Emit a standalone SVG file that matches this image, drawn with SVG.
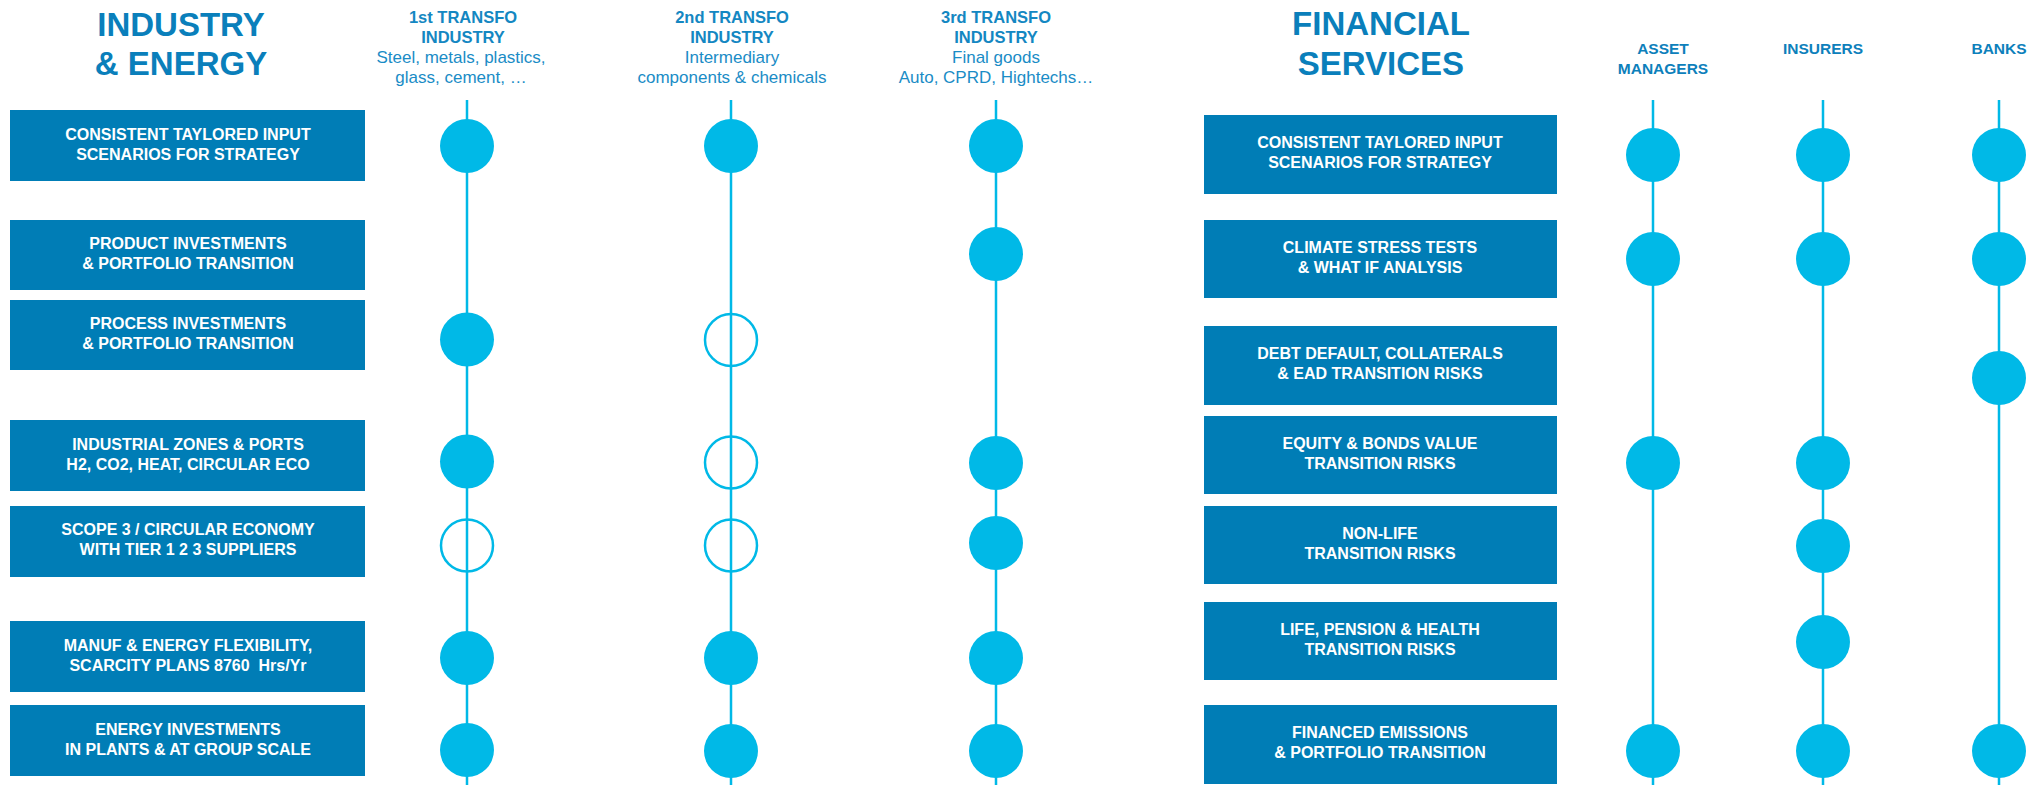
<svg xmlns="http://www.w3.org/2000/svg" width="2039" height="785" viewBox="0 0 2039 785">
<style>
.bg{fill:#ffffff}
.box{fill:#007db6}
.bt{font-family:"Liberation Sans",Arial,sans-serif;font-weight:bold;font-size:16px;fill:#ffffff;text-anchor:middle}
.title{font-family:"Liberation Sans",Arial,sans-serif;font-weight:bold;font-size:33px;fill:#0a7fbb;text-anchor:middle}
.hd{font-family:"Liberation Sans",Arial,sans-serif;font-weight:bold;font-size:16.5px;fill:#1487c2;text-anchor:middle}
.sub{font-family:"Liberation Sans",Arial,sans-serif;font-size:17px;fill:#1a8cc6;text-anchor:middle}
.rh{font-family:"Liberation Sans",Arial,sans-serif;font-weight:bold;font-size:15.5px;fill:#0d80bb;text-anchor:middle}
.ln{stroke:#00b9e7;stroke-width:2.5;fill:none}
.f{fill:#00b9e7}
.h{fill:none;stroke:#00b9e7;stroke-width:2.5}
</style>
<rect class="bg" x="0" y="0" width="2039" height="785"/>

<g id="titles">
<text class="title" x="181" y="36">INDUSTRY</text>
<text class="title" x="181" y="75">&amp; ENERGY</text>
<text class="title" x="1381" y="35">FINANCIAL</text>
<text class="title" x="1381" y="75">SERVICES</text>
</g>

<g id="col-headers">
<g id="hdr-1st">
<text class="hd" x="463" y="23">1st TRANSFO</text>
<text class="hd" x="463" y="43">INDUSTRY</text>
<text class="sub" x="461" y="63">Steel, metals, plastics,</text>
<text class="sub" x="461" y="83">glass, cement, …</text>
</g>
<g id="hdr-2nd">
<text class="hd" x="732" y="23">2nd TRANSFO</text>
<text class="hd" x="732" y="43">INDUSTRY</text>
<text class="sub" x="732" y="63">Intermediary</text>
<text class="sub" x="732" y="83">components &amp; chemicals</text>
</g>
<g id="hdr-3rd">
<text class="hd" x="996" y="23">3rd TRANSFO</text>
<text class="hd" x="996" y="43">INDUSTRY</text>
<text class="sub" x="996" y="63">Final goods</text>
<text class="sub" x="996" y="83">Auto, CPRD, Hightechs…</text>
</g>
<g id="hdr-am">
<text class="rh" x="1663" y="54">ASSET</text>
<text class="rh" x="1663" y="74">MANAGERS</text>
</g>
<g id="hdr-ins"><text class="rh" x="1823" y="54">INSURERS</text></g>
<g id="hdr-banks"><text class="rh" x="1999" y="54">BANKS</text></g>
</g>

<g id="connectors">
<line class="ln" x1="467" y1="100" x2="467" y2="785"/>
<line class="ln" x1="731" y1="100" x2="731" y2="785"/>
<line class="ln" x1="996" y1="100" x2="996" y2="785"/>
<line class="ln" x1="1653" y1="100" x2="1653" y2="785"/>
<line class="ln" x1="1823" y1="100" x2="1823" y2="785"/>
<line class="ln" x1="1999" y1="100" x2="1999" y2="785"/>
</g>

<g id="left-rows">
<g id="l1"><rect class="box" x="10" y="110" width="355" height="71"/>
<text class="bt" x="188" y="140">CONSISTENT TAYLORED INPUT</text>
<text class="bt" x="188" y="160">SCENARIOS FOR STRATEGY</text></g>
<g id="l2"><rect class="box" x="10" y="220" width="355" height="70"/>
<text class="bt" x="188" y="249">PRODUCT INVESTMENTS</text>
<text class="bt" x="188" y="269">&amp; PORTFOLIO TRANSITION</text></g>
<g id="l3"><rect class="box" x="10" y="300" width="355" height="70"/>
<text class="bt" x="188" y="329">PROCESS INVESTMENTS</text>
<text class="bt" x="188" y="349">&amp; PORTFOLIO TRANSITION</text></g>
<g id="l4"><rect class="box" x="10" y="420" width="355" height="71"/>
<text class="bt" x="188" y="450">INDUSTRIAL ZONES &amp; PORTS</text>
<text class="bt" x="188" y="470">H2, CO2, HEAT, CIRCULAR ECO</text></g>
<g id="l5"><rect class="box" x="10" y="506" width="355" height="71"/>
<text class="bt" x="188" y="535">SCOPE 3 / CIRCULAR ECONOMY</text>
<text class="bt" x="188" y="555">WITH TIER 1 2 3 SUPPLIERS</text></g>
<g id="l6"><rect class="box" x="10" y="621" width="355" height="71"/>
<text class="bt" x="188" y="651">MANUF &amp; ENERGY FLEXIBILITY,</text>
<text class="bt" x="188" y="671" xml:space="preserve">SCARCITY PLANS 8760  Hrs/Yr</text></g>
<g id="l7"><rect class="box" x="10" y="705" width="355" height="71"/>
<text class="bt" x="188" y="735">ENERGY INVESTMENTS</text>
<text class="bt" x="188" y="755">IN PLANTS &amp; AT GROUP SCALE</text></g>
</g>

<g id="right-rows">
<g id="r1"><rect class="box" x="1204" y="115" width="353" height="79"/>
<text class="bt" x="1380" y="148">CONSISTENT TAYLORED INPUT</text>
<text class="bt" x="1380" y="168">SCENARIOS FOR STRATEGY</text></g>
<g id="r2"><rect class="box" x="1204" y="220" width="353" height="78"/>
<text class="bt" x="1380" y="253">CLIMATE STRESS TESTS</text>
<text class="bt" x="1380" y="273">&amp; WHAT IF ANALYSIS</text></g>
<g id="r3"><rect class="box" x="1204" y="326" width="353" height="79"/>
<text class="bt" x="1380" y="359">DEBT DEFAULT, COLLATERALS</text>
<text class="bt" x="1380" y="379">&amp; EAD TRANSITION RISKS</text></g>
<g id="r4"><rect class="box" x="1204" y="416" width="353" height="78"/>
<text class="bt" x="1380" y="449">EQUITY &amp; BONDS VALUE</text>
<text class="bt" x="1380" y="469">TRANSITION RISKS</text></g>
<g id="r5"><rect class="box" x="1204" y="506" width="353" height="78"/>
<text class="bt" x="1380" y="539">NON-LIFE</text>
<text class="bt" x="1380" y="559">TRANSITION RISKS</text></g>
<g id="r6"><rect class="box" x="1204" y="602" width="353" height="78"/>
<text class="bt" x="1380" y="635">LIFE, PENSION &amp; HEALTH</text>
<text class="bt" x="1380" y="655">TRANSITION RISKS</text></g>
<g id="r7"><rect class="box" x="1204" y="705" width="353" height="79"/>
<text class="bt" x="1380" y="738">FINANCED EMISSIONS</text>
<text class="bt" x="1380" y="758">&amp; PORTFOLIO TRANSITION</text></g>
</g>

<g id="markers">
<g id="m-1st">
<circle class="f" cx="467" cy="146" r="27"/>
<circle class="f" cx="467" cy="339.5" r="27"/>
<circle class="f" cx="467" cy="461.5" r="27"/>
<circle class="h" cx="467" cy="545.5" r="26"/>
<circle class="f" cx="467" cy="658" r="27"/>
<circle class="f" cx="467" cy="750" r="27"/>
</g>
<g id="m-2nd">
<circle class="f" cx="731" cy="146" r="27"/>
<circle class="h" cx="731" cy="340" r="26"/>
<circle class="h" cx="731" cy="462.5" r="26"/>
<circle class="h" cx="731" cy="545.5" r="26"/>
<circle class="f" cx="731" cy="658" r="27"/>
<circle class="f" cx="731" cy="751" r="27"/>
</g>
<g id="m-3rd">
<circle class="f" cx="996" cy="146" r="27"/>
<circle class="f" cx="996" cy="254" r="27"/>
<circle class="f" cx="996" cy="463" r="27"/>
<circle class="f" cx="996" cy="543" r="27"/>
<circle class="f" cx="996" cy="658" r="27"/>
<circle class="f" cx="996" cy="751" r="27"/>
</g>
<g id="m-am">
<circle class="f" cx="1653" cy="155" r="27"/>
<circle class="f" cx="1653" cy="259" r="27"/>
<circle class="f" cx="1653" cy="463" r="27"/>
<circle class="f" cx="1653" cy="751" r="27"/>
</g>
<g id="m-ins">
<circle class="f" cx="1823" cy="155" r="27"/>
<circle class="f" cx="1823" cy="259" r="27"/>
<circle class="f" cx="1823" cy="463" r="27"/>
<circle class="f" cx="1823" cy="546" r="27"/>
<circle class="f" cx="1823" cy="642" r="27"/>
<circle class="f" cx="1823" cy="751" r="27"/>
</g>
<g id="m-banks">
<circle class="f" cx="1999" cy="155" r="27"/>
<circle class="f" cx="1999" cy="259" r="27"/>
<circle class="f" cx="1999" cy="378" r="27"/>
<circle class="f" cx="1999" cy="751" r="27"/>
</g>
</g>
</svg>
